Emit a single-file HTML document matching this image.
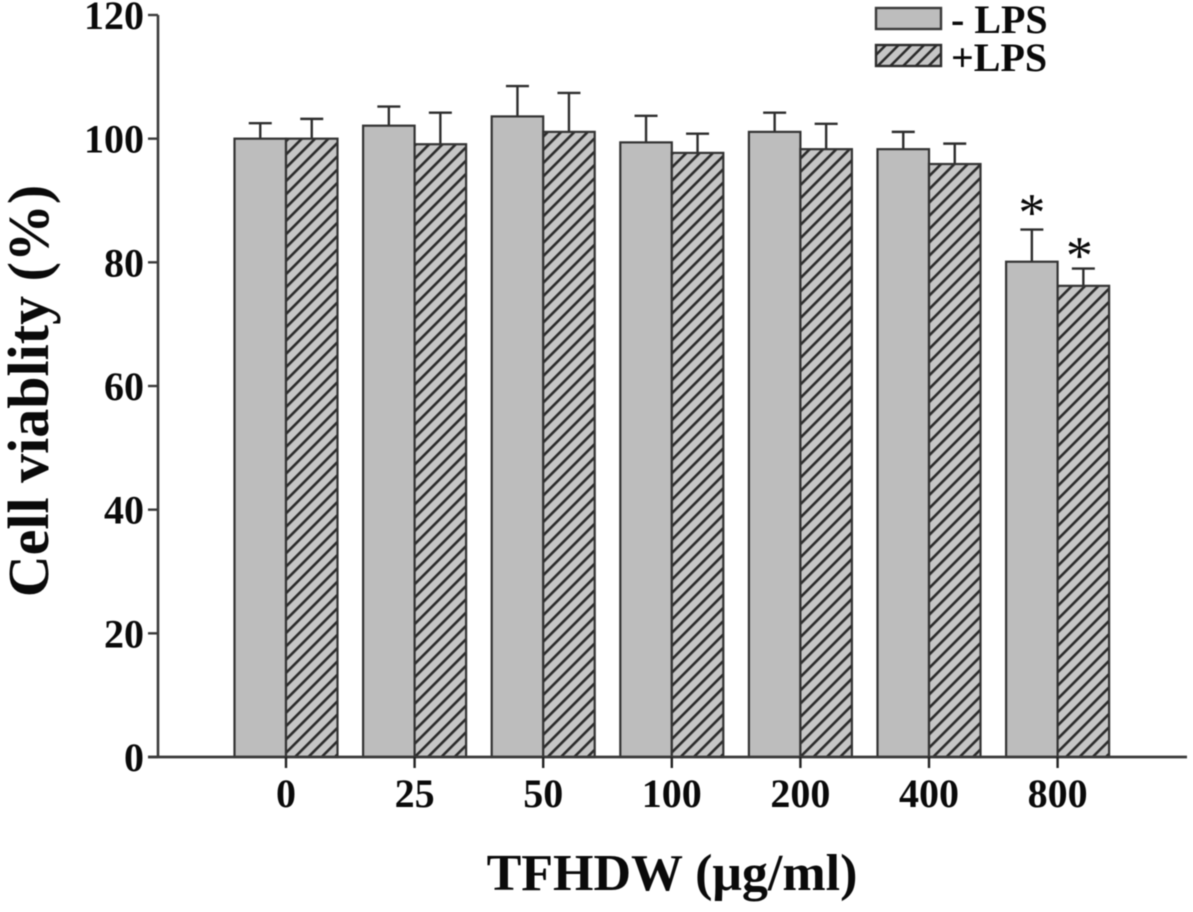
<!DOCTYPE html>
<html>
<head>
<meta charset="utf-8">
<style>
html,body{margin:0;padding:0;background:#fff;}
svg{display:block;filter:blur(0.5px);}
text{font-family:"Liberation Serif",serif;font-weight:bold;fill:#0a0a0a;}
</style>
</head>
<body>
<svg id="chart" xmlns="http://www.w3.org/2000/svg" width="1193" height="912" viewBox="0 0 1193 912">
<defs>
<pattern id="hatch" patternUnits="userSpaceOnUse" width="9.4" height="9.4" patternTransform="rotate(45)">
<rect width="9.4" height="9.4" fill="#c6c6c6"/>
<rect x="0" width="2.6" height="9.4" fill="#2b2b2b"/>
</pattern>
<pattern id="hatch-small" patternUnits="userSpaceOnUse" width="9" height="9" patternTransform="rotate(45)">
<rect width="9" height="9" fill="#c6c6c6"/>
<rect x="0" width="2.5" height="9" fill="#2b2b2b"/>
</pattern>
</defs>
<g id="bars"></g>
<g id="axes"></g>
<g id="legend">
<g>
<rect x="876" y="8" width="65" height="21" fill="#bdbdbd" stroke="#3a3a3a" stroke-width="2.4"/>
<text x="951" y="33" font-size="40">- LPS</text>
</g>
<g>
<rect x="876" y="45" width="65" height="21" fill="url(#hatch-small)" stroke="#2b2b2b" stroke-width="2.4"/>
<text x="951" y="71" font-size="40">+LPS</text>
</g>
</g>
<text transform="translate(48,391) rotate(-90)" text-anchor="middle" font-size="58">Cell viablity (%)</text>
<text x="672" y="890" text-anchor="middle" font-size="52">TFHDW (μg/ml)</text>
</svg>
<script>
var categories = ["0", "25", "50", "100", "200", "400", "800"];
var minusLps = [100, 102.1, 103.6, 99.4, 101.1, 98.3, 80.1];
var plusLps = [100, 99.1, 101.1, 97.7, 98.3, 95.9, 76.2];
var minusLpsError = [2.5, 3.1, 4.9, 4.3, 3.1, 2.8, 5.2];
var plusLpsError = [3.2, 5.1, 6.3, 3.1, 4.1, 3.3, 2.8];
var minusLpsMarks = ["", "", "", "", "", "", "*"];
var plusLpsMarks = ["", "", "", "", "", "", "*"];
var yTickValues = [0, 20, 40, 60, 80, 100, 120];

var NS = 'http://www.w3.org/2000/svg';
var barsLayer = document.getElementById('bars');
var axesLayer = document.getElementById('axes');
function yScale(v) { return 757 - v * (742 / 120); }
function xCenter(i) { return 286 + i * 128.6; }
var BAR_W = 51.5;

function make(parent, tag, attrs) {
  var el = document.createElementNS(NS, tag);
  for (var k in attrs) { el.setAttribute(k, attrs[k]); }
  parent.appendChild(el);
  return el;
}

function drawBar(i, value, err, mark, side, seriesName) {
  var c = xCenter(i);
  var x = side < 0 ? c - BAR_W : c;
  var mid = x + BAR_W / 2;
  var group = make(barsLayer, 'g', {});
  
  
  var eb = make(group, 'path', {
    d: 'M' + mid + ' ' + yScale(value) + 'V' + yScale(value + err) + 'M' + (mid - 11.5) + ' ' + yScale(value + err) + 'H' + (mid + 11.5),
    fill: 'none', stroke: '#2e2e2e', 'stroke-width': 2.4
  });
  
  
  var bar = make(group, 'rect', {
    x: x, y: yScale(value), width: BAR_W, height: yScale(0) - yScale(value),
    fill: side < 0 ? '#bdbdbd' : 'url(#hatch)', stroke: '#333', 'stroke-width': 2.2
  });
  
  
  if (mark) {
    var t = make(group, 'text', {
      x: side < 0 ? mid : mid - 4,
      y: yScale(value + err) + (side < 0 ? 1 : 5),
      'text-anchor': 'middle', 'font-size': 54
    });
    t.style.fontWeight = 'normal';
    t.textContent = mark;
    
    
  }
}

categories.forEach(function (cat, i) {
  drawBar(i, minusLps[i], minusLpsError[i], minusLpsMarks[i], -1, 'minus-lps');
  drawBar(i, plusLps[i], plusLpsError[i], plusLpsMarks[i], 1, 'plus-lps');
});

var yAxisLine = make(axesLayer, 'line', { x1: 158, x2: 158, y1: yScale(120), y2: yScale(0), stroke: '#3a3a3a', 'stroke-width': 2.6 });


var xAxisLine = make(axesLayer, 'line', { x1: 148, x2: 1187, y1: yScale(0), y2: yScale(0), stroke: '#3a3a3a', 'stroke-width': 2.8 });



yTickValues.forEach(function (v) {
  var tick = make(axesLayer, 'line', { x1: 148, x2: 158, y1: yScale(v), y2: yScale(v), stroke: '#3a3a3a', 'stroke-width': 2.4 });
  
  
  var label = make(axesLayer, 'text', { x: 144, y: yScale(v) + 14, 'text-anchor': 'end', 'font-size': 40 });
  label.textContent = v;
  
  
});

categories.forEach(function (cat, i) {
  var tick = make(axesLayer, 'line', { x1: xCenter(i), x2: xCenter(i), y1: yScale(0), y2: yScale(0) + 11, stroke: '#222', 'stroke-width': 2.4 });
  
  
  var label = make(axesLayer, 'text', { x: xCenter(i), y: 807, 'text-anchor': 'middle', 'font-size': 40 });
  label.textContent = cat;
  
  
});
</script>
</body>
</html>
